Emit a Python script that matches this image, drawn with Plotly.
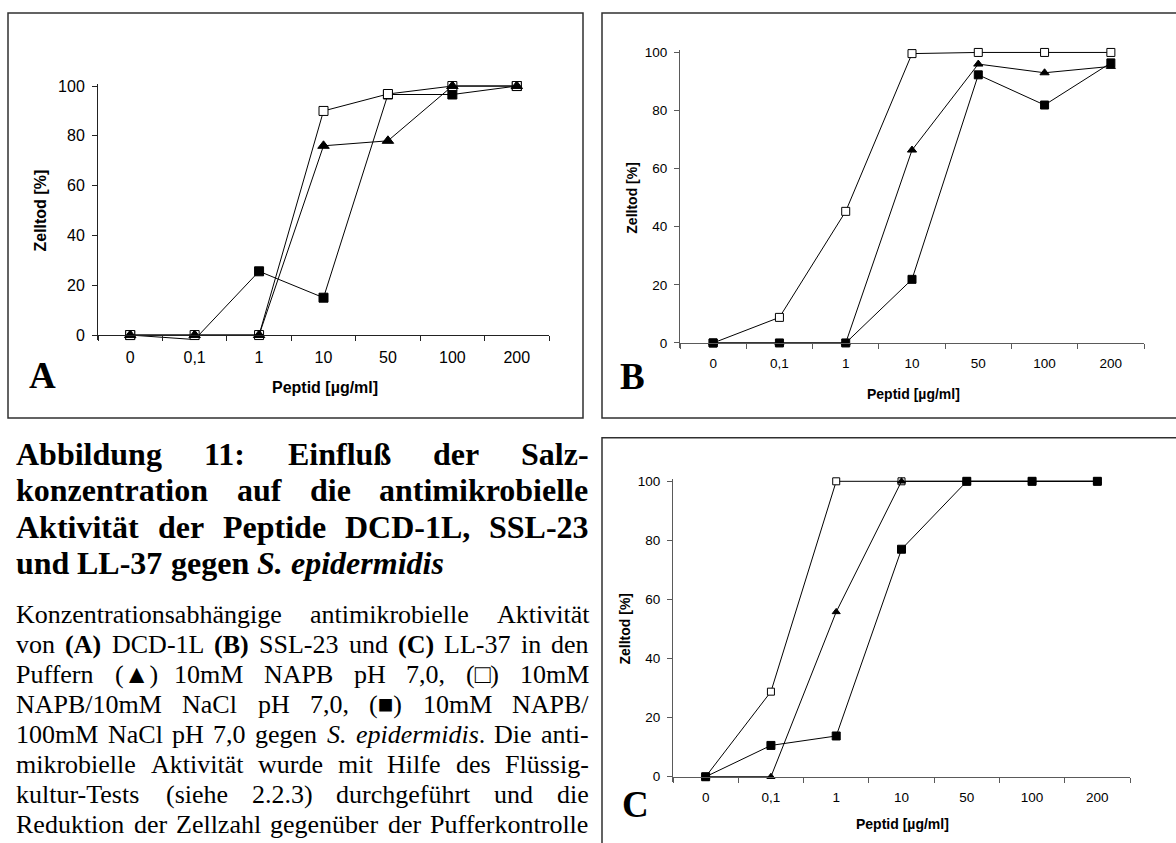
import plotly.graph_objects as go

W, H = 1176, 843

# ---------------------------------------------------------------- data
categories = ["0", "0,1", "1", "10", "50", "100", "200"]

# (A) DCD-1L
a_napb = [0, 0, 0, 76, 78, 100, 100]               # ▲ 10mM NAPB
a_nacl10 = [0, 0, 0, 90, 96.8, 100, 100]           # □ 10mM NAPB/10mM NaCl
a_nacl100 = [0, -1.8, 25.6, 15, 96.6, 96.6, 100]   # ■ 10mM NAPB/100mM NaCl

# (B) SSL-23
b_napb = [0, 0, 0, 66.4, 96, 93, 95.2]
b_nacl10 = [0, 8.8, 45.3, 99.6, 100, 100, 100]
b_nacl100 = [0, 0, 0, 21.9, 92.3, 81.9, 96.4]

# (C) LL-37
c_napb = [0, 0, 55.8, 100, 100, 100, 100]
c_nacl10 = [0, 28.8, 100, 100, 100, 100, 100]
c_nacl100 = [0, 10.6, 13.8, 77, 100, 100, 100]

y_ticks = [0, 20, 40, 60, 80, 100]
x_title = "Peptid [µg/ml]"
y_title = "Zelltod [%]"


def X(px):
    return px / W


def Y(py):
    return 1 - py / H


SANS = "Liberation Sans, Arial, Helvetica, sans-serif"
SERIF = "Liberation Serif, Times New Roman, Times, serif"

# panel geometry in page pixels
panels = [
    dict(letter="A", data=(a_napb, a_nacl10, a_nacl100), order=("filled", "open", "tri"),
         x0=98, x1=549, y100=81, y0=333, axcol="#222222", tick=16, title=16,
         msize=dict(open=9, filled=9, tri=10),
         xtitle=(325, 386), ytitle=(41, 207), letter_xy=(42, 374),
         box=(8, 7, 583, 417)),
    dict(letter="B", data=(b_napb, b_nacl10, b_nacl100), order=("open", "tri", "filled"),
         x0=680, x1=1144, y100=47, y0=341, axcol="#5a5a5a", tick=13.5, title=14,
         msize=dict(open=8, filled=8, tri=8),
         xtitle=(913, 393), ytitle=(632, 194), letter_xy=(632, 375),
         box=(602, 7, 1190, 417)),
    dict(letter="C", data=(c_napb, c_nacl10, c_nacl100), order=("open", "tri", "filled"),
         x0=673, x1=1130, y100=481, y0=780, axcol="#5a5a5a", tick=13.5, title=14,
         msize=dict(open=7, filled=8, tri=7),
         xtitle=(902, 828), ytitle=(625, 630), letter_xy=(635, 808),
         box=(602, 437, 1190, 860)),
]

fig = go.Figure()
layout = dict(
    width=W, height=H, margin=dict(l=0, r=0, t=0, b=0),
    paper_bgcolor="white", plot_bgcolor="rgba(0,0,0,0)",
    showlegend=False, shapes=[], annotations=[],
)

for i, p in enumerate(panels, start=1):
    xa = "x" if i == 1 else f"x{i}"
    ya = "y" if i == 1 else f"y{i}"
    scale = (p["y0"] - p["y100"]) / 100.0
    ext_bot, ext_top = 5, 2
    yr = [-ext_bot / scale, 100 + ext_top / scale]

    napb, nacl10, nacl100 = p["data"]
    ms = p["msize"]
    styles = {
        "open": dict(y=nacl10, symbol="square", color="#ffffff", size=ms["open"]),
        "filled": dict(y=nacl100, symbol="square", color="#000000", size=ms["filled"]),
        "tri": dict(y=napb, symbol="triangle-up", color="#000000", size=ms["tri"]),
    }
    for key in p["order"]:
        s = styles[key]
        # points below the axis are not marked
        sizes = [s["size"] if v >= 0 else 0 for v in s["y"]]
        fig.add_trace(go.Scatter(
            x=categories, y=s["y"], mode="lines+markers",
            xaxis=xa, yaxis=ya, cliponaxis=False, opacity=1,
            line=dict(color="#000000", width=1),
            marker=dict(symbol=s["symbol"], size=sizes, color=s["color"], opacity=1,
                        line=dict(color="#000000", width=1)),
            hoverinfo="skip",
        ))

    xkey = "xaxis" if i == 1 else f"xaxis{i}"
    ykey = "yaxis" if i == 1 else f"yaxis{i}"
    layout[xkey] = dict(
        domain=[X(p["x0"]), X(p["x1"])], type="category",
        categoryorder="array", categoryarray=categories,
        range=[-0.5, 6.5], anchor="free", position=Y(p["y0"]),
        showline=True, linecolor=p["axcol"], linewidth=1,
        ticks="outside", ticklen=5, tickwidth=1, tickcolor=p["axcol"],
        tickson="boundaries", showgrid=False, zeroline=False,
        tickfont=dict(family=SANS, size=p["tick"], color="black"),
        ticklabelstandoff=8, fixedrange=True,
    )
    layout[ykey] = dict(
        domain=[Y(p["y0"] + ext_bot), Y(p["y100"] - ext_top)],
        range=yr, anchor=xa, tickvals=y_ticks,
        showline=True, linecolor=p["axcol"], linewidth=1,
        ticks="outside", ticklen=5, tickwidth=1, tickcolor=p["axcol"],
        showgrid=False, zeroline=False,
        tickfont=dict(family=SANS, size=p["tick"], color="black"),
        ticklabelstandoff=4, fixedrange=True,
    )

    bx0, by0, bx1, by1 = p["box"]
    layout["shapes"].append(dict(
        type="rect", xref="paper", yref="paper",
        x0=X(bx0), x1=X(bx1), y0=Y(by1), y1=Y(by0),
        line=dict(color="#303030", width=1.5), fillcolor="rgba(0,0,0,0)",
    ))
    layout["annotations"].append(dict(
        text=f"<b>{x_title}</b>", x=X(p["xtitle"][0]), y=Y(p["xtitle"][1]),
        xref="paper", yref="paper", showarrow=False, xanchor="center", yanchor="middle",
        font=dict(family=SANS, size=p["title"], color="black"),
    ))
    layout["annotations"].append(dict(
        text=f"<b>{y_title}</b>", x=X(p["ytitle"][0]), y=Y(p["ytitle"][1]),
        xref="paper", yref="paper", showarrow=False, xanchor="center", yanchor="middle",
        textangle=-90, font=dict(family=SANS, size=p["title"], color="black"),
    ))
    layout["annotations"].append(dict(
        text=f"<b>{p['letter']}</b>", x=X(p["letter_xy"][0]), y=Y(p["letter_xy"][1]),
        xref="paper", yref="paper", showarrow=False, xanchor="center", yanchor="middle",
        font=dict(family=SERIF, size=37, color="black"),
    ))

# ---------------------------------------------------------------- caption text
REG = {" ": 250, "(": 333, ")": 333, ",": 250, "-": 333, ".": 250, "/": 278, ":": 278,
       "A": 722, "B": 667, "C": 667, "D": 722, "E": 611, "F": 556, "G": 722, "H": 722,
       "I": 333, "K": 722, "L": 611, "M": 889, "N": 722, "P": 556, "R": 667, "S": 556,
       "T": 611, "Z": 611,
       "a": 444, "b": 500, "c": 444, "d": 500, "e": 444, "f": 333, "g": 500, "h": 500,
       "i": 278, "k": 500, "l": 278, "m": 778, "n": 500, "o": 500, "p": 500, "r": 333,
       "s": 389, "t": 278, "u": 500, "v": 500, "w": 722, "z": 444, "ä": 444, "ü": 500,
       "ß": 500, "▲": 800, "□": 600, "■": 600}
BOLD = {" ": 250, "(": 333, ")": 333, ",": 250, "-": 333, ".": 250, "/": 278, ":": 333,
        "A": 722, "B": 667, "C": 722, "D": 722, "E": 667, "L": 667, "P": 611, "S": 556,
        "a": 500, "b": 556, "d": 556, "e": 444, "f": 333, "g": 500, "i": 278, "k": 556,
        "l": 278, "m": 833, "n": 556, "o": 500, "p": 556, "r": 444, "t": 333, "u": 556,
        "v": 500, "z": 444, "ä": 500, "ß": 556}
ITAL = {" ": 250, ".": 250, "S": 500, "d": 500, "e": 444, "i": 278, "m": 722, "p": 500,
        "r": 389, "s": 389}
BITAL = {" ": 250, ".": 250, "S": 556, "d": 500, "e": 444, "i": 278, "m": 778, "p": 500,
         "r": 389, "s": 389}
for d in (REG, BOLD, ITAL, BITAL):
    for ch in "0123456789":
        d.setdefault(ch, 500)


def text_width(s, size, bold=False):
    italic = False
    w = 0
    i = 0
    while i < len(s):
        for tag, attr, val in (("<b>", "b", True), ("</b>", "b", False),
                               ("<i>", "i", True), ("</i>", "i", False)):
            if s.startswith(tag, i):
                if attr == "b":
                    bold = val
                else:
                    italic = val
                i += len(tag)
                break
        else:
            ch = s[i]
            table = BITAL if (bold and italic) else BOLD if bold else ITAL if italic else REG
            w += table.get(ch, REG.get(ch, 500))
            i += 1
    return w * size / 1000.0


def place_line(words, y, size, left, right, bold=False, justify=True):
    widths = [text_width(w, size, bold) for w in words]
    if justify and len(words) > 1:
        gap = (right - left - sum(widths)) / (len(words) - 1)
    else:
        gap = size * 0.25
    x = left
    for w, ww in zip(words, widths):
        txt = f"<b>{w}</b>" if bold else w
        layout["annotations"].append(dict(
            text=txt, x=X(x), y=Y(y), xref="paper", yref="paper",
            showarrow=False, xanchor="left", yanchor="middle",
            borderpad=0, borderwidth=0,
            font=dict(family=SERIF, size=size, color="black"),
        ))
        x += ww + gap


TEXT_L, TEXT_R = 16, 589

title_lines = [
    "Abbildung 11: Einfluß der Salz-",
    "konzentration auf die antimikrobielle",
    "Aktivität der Peptide DCD-1L, SSL-23",
    "und LL-37 gegen <i>S.</i> <i>epidermidis</i>",
]
body_lines = [
    "Konzentrationsabhängige antimikrobielle Aktivität",
    "von <b>(A)</b> DCD-1L <b>(B)</b> SSL-23 und <b>(C)</b> LL-37 in den",
    "Puffern (▲) 10mM NAPB pH 7,0, (□) 10mM",
    "NAPB/10mM NaCl pH 7,0, (■) 10mM NAPB/",
    "100mM NaCl pH 7,0 gegen <i>S.</i> <i>epidermidis</i>. Die anti-",
    "mikrobielle Aktivität wurde mit Hilfe des Flüssig-",
    "kultur-Tests (siehe 2.2.3) durchgeführt und die",
    "Reduktion der Zellzahl gegenüber der Pufferkontrolle",
]

TITLE_SIZE, TITLE_Y0, TITLE_DY = 32, 453, 37
BODY_SIZE, BODY_Y0, BODY_DY = 26, 616, 30.3

for k, line in enumerate(title_lines):
    place_line(line.split(" "), TITLE_Y0 + k * TITLE_DY, TITLE_SIZE, TEXT_L, TEXT_R,
               bold=True, justify=(k < len(title_lines) - 1))
for k, line in enumerate(body_lines):
    place_line(line.split(" "), BODY_Y0 + k * BODY_DY, BODY_SIZE, TEXT_L, TEXT_R)

fig.update_layout(**layout)
fig.write_html("out.html", config=dict(displayModeBar=False, staticPlot=True))
